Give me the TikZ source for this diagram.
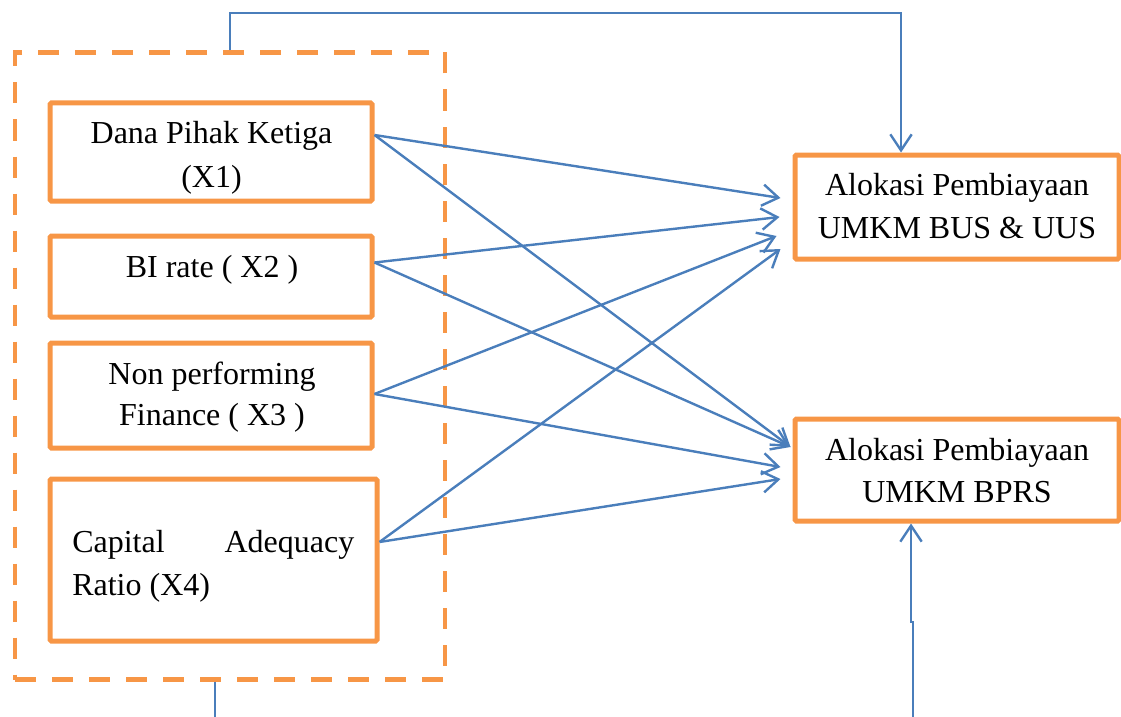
\documentclass[tikz,border=0pt]{standalone}
\usepackage{fontspec}
\setmainfont{Liberation Serif}
\usetikzlibrary{arrows.meta,calc}
\definecolor{boxorange}{HTML}{F79646}
\definecolor{linkblue}{HTML}{4A7EBB}
\begin{document}
\begin{tikzpicture}[x=0.75pt,y=-0.75pt,
  box/.style={draw=boxorange,line width=3.75pt,rectangle,inner sep=0pt,rounded corners=1pt},
  grpbox/.style={draw=boxorange,line width=3.2pt,dash pattern=on 15.75pt off 12pt,rectangle,inner sep=0pt},
  txt/.style={inner sep=0pt,font=\fontsize{24}{28}\selectfont,anchor=base},
  link/.style={draw=linkblue,line width=1.8pt},
  arr/.style={link,-{Straight Barb[length=12pt,width=16pt]}}
]
\useasboundingbox (0,0) rectangle (1121,717);

% group
\node[grpbox,minimum width=322.5pt,minimum height=470.25pt] (grp) at (230,366) {};

% left boxes
\node[box,minimum width=241.5pt,minimum height=73.5pt] (x1) at (211,152) {};
\node[box,minimum width=241.5pt,minimum height=60.75pt] (x2) at (211,276.5) {};
\node[box,minimum width=241.5pt,minimum height=78.75pt] (x3) at (211,395.5) {};
\node[box,minimum width=245.25pt,minimum height=121.5pt] (x4) at (213.5,560) {};

% right boxes
\node[box,minimum width=243pt,minimum height=78pt] (bus) at (957,207) {};
\node[box,minimum width=243pt,minimum height=76.5pt] (bprs) at (957,470) {};

% texts
\node[txt] (x1a) at (211.5,143) {Dana Pihak Ketiga};
\node[txt] (x1b) at (211.5,187) {(X1)};
\node[txt] (x2a) at (212,277) {BI rate ( X2 )};
\node[txt] (x3a) at (212,384) {Non performing};
\node[txt] (x3b) at (212,425) {Finance ( X3 )};
\node[txt,anchor=base west] (x4a) at (72,552) {\makebox[211.5pt][s]{Capital Adequacy}};
\node[txt,anchor=base west] (x4b) at (72,595) {Ratio (X4)};
\node[txt] (busa) at (957,195) {Alokasi Pembiayaan};
\node[txt] (busb) at (957,238) {UMKM BUS \& UUS};
\node[txt] (bprsa) at (957,460) {Alokasi Pembiayaan};
\node[txt] (bprsb) at (957,502) {UMKM BPRS};

% connectors to BUS
\draw[arr] ($(x1.east)+(0,-17)$) -- ($(bus.west)+(-12,-9)$);
\draw[arr] ($(x2.east)+(0,-14)$) -- ($(bus.west)+(-13,10)$);
\draw[arr] ($(x3.east)+(0,-1.5)$) -- ($(bus.west)+(-16,29)$);
\draw[arr] ($(x4.east)+(0,-18)$) -- ($(bus.west)+(-12,42)$);

% connectors to BPRS
\draw[arr] ($(x1.east)+(0,-17)$) -- ($(bprs.west)+(-2,-23)$);
\draw[arr] ($(x2.east)+(0,-14)$) -- ($(bprs.west)+(-2,-23)$);
\draw[arr] ($(x3.east)+(0,-1.5)$) -- ($(bprs.west)+(-12,-3)$);
\draw[arr] ($(x4.east)+(0,-18)$) -- ($(bprs.west)+(-12,9)$);

% top connector
\coordinate (tl) at (230,13);
\coordinate (tr) at (901,13);
\draw[arr] (grp.north -| tl) |- (tr) -- (bus.north -| tr);

% bottom left free line
\coordinate (bl) at (215,717);
\draw[link] (grp.south -| bl) -- (bl);

% bottom right connector
\coordinate (br) at (913,717);
\coordinate (bj) at (911,622);
\draw[arr] (br) -- (br |- bj) -- (bj) -- (bprs.south -| bj);
\end{tikzpicture}
\end{document}
